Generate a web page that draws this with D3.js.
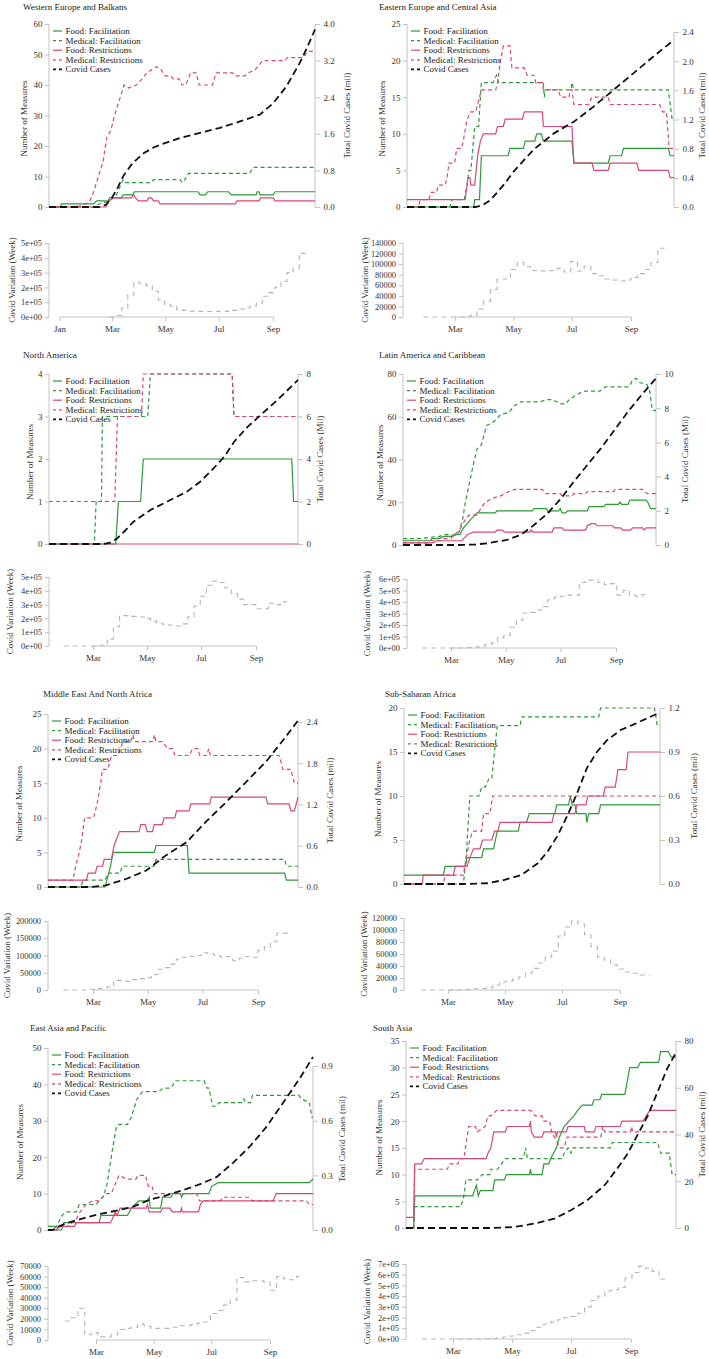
<!DOCTYPE html>
<html><head><meta charset="utf-8">
<script src="https://cdn.jsdelivr.net/npm/d3@7"></script>
<style>body{margin:0;background:#fff}svg{display:block}</style>
</head><body><svg id="chart" width="709" height="1359"></svg>
<script>
// ---------- shared labels ----------
const seriesNames = ["Food: Facilitation","Medical: Facilitation","Food: Restrictions","Medical: Restrictions","Covid Cases"];
const monthNames = ["Jan","Feb","Mar","Apr","May","Jun","Jul","Aug","Sep","Oct","Nov","Dec"];
const mainDays = [0, 280];            // main charts: day index of the period shown
const leftTitle = "Number of Measures";
const subTitle = "Covid Variation (Week)";

// ---------- Western Europe and Balkans ----------
const weFoodFac = [[0,0],[12,0],[13,1],[47,1],[50,2],[62,2],[64,3],[76,3],[78,4],[88,4],[90,5],[157,5],[159,4],[165,4],[167,5],[189,5],[192,4],[218,4],[219,5],[221,5],[222,4],[236,4],[238,5],[280,5]];
const weMedFac = [[0,0],[47,0],[53,1],[64,2],[71,4],[78,9],[81,8],[108,8],[110,9],[138,9],[140,8],[143,9],[147,11],[211,11],[215,13],[280,13]];
const weFoodRes = [[0,0],[60,0],[63,2],[68,3],[87,3],[89,4],[91,3],[94,2],[103,2],[105,3],[108,3],[110,2],[115,2],[117,1],[196,1],[198,2],[221,2],[223,3],[236,3],[238,2],[280,2]];
const weMedRes = [[0,0],[29,0],[38,1],[43,2],[47,5],[52,10],[57,15],[61,23],[65,25],[69,30],[74,35],[79,40],[84,39],[92,40],[98,42],[103,44],[108,45],[113,46],[118,45],[122,43],[128,43],[131,42],[137,42],[140,40],[144,40],[149,44],[155,44],[158,40],[172,40],[176,44],[193,44],[196,43],[206,43],[210,44],[217,45],[225,48],[248,48],[251,49],[268,49],[272,51],[280,51]];
const weCases = [[0,0],[53,0],[60,0.05],[67,0.23],[73,0.45],[78,0.67],[88,0.96],[100,1.18],[110,1.3],[117,1.36],[138,1.51],[159,1.62],[180,1.73],[201,1.87],[222,2.02],[236,2.27],[250,2.64],[264,3.15],[272,3.5],[280,3.88]];
const weWeekStart = 57;
const weWeekly = [0,10000,60000,150000,235000,225000,210000,175000,115000,85000,72000,50000,45000,40000,38000,37000,37000,38000,35000,38000,45000,52000,62000,75000,95000,140000,165000,200000,240000,300000,330000,430000];
const weLeftTicks = ["0","10","20","30","40","50","60"];
const weRightTicks = ["0.0","0.8","1.6","2.4","3.2","4.0"];
const weSubTicks = ["0e+00","1e+05","2e+05","3e+05","4e+05","5e+05"];
const weMonths = ["Jan","Mar","May","Jul","Sep"];

// ---------- Eastern Europe and Central Asia ----------
const eeFoodFac = [[0,0],[70,0],[71,1],[76,1],[78,7],[106,7],[108,8],[122,8],[124,9],[134,9],[136,10],[141,10],[143,9],[173,9],[175,6],[211,6],[213,7],[225,7],[227,8],[274,8],[276,7],[280,7]];
const eeMedFac = [[0,0],[45,0],[47,1],[60,1],[63,3],[65,5],[67,5],[71,11],[75,11],[78,17],[90,17],[94,18],[96,17],[143,17],[144,15],[145,16],[172,16],[173,17],[175,16],[274,16],[278,12],[280,12]];
const eeFoodRes = [[0,1],[61,1],[63,3],[64,4],[66,4],[67,3],[71,3],[74,7],[77,9],[80,10],[93,10],[95,11],[101,11],[103,12],[121,12],[123,13],[142,13],[143,11],[173,11],[175,6],[194,6],[196,5],[211,5],[213,6],[241,6],[243,5],[274,5],[276,4],[280,4]];
const eeMedRes = [[0,0],[12,0],[14,1],[23,1],[25,2],[31,2],[33,3],[40,3],[42,4],[44,6],[50,6],[52,8],[57,8],[59,9],[63,12],[67,13],[72,13],[78,16],[93,16],[95,17],[98,20],[101,22],[108,22],[110,19],[123,19],[126,18],[133,18],[135,17],[142,17],[143,16],[159,16],[161,15],[170,15],[171,16],[173,16],[175,14],[190,14],[194,15],[211,15],[213,14],[265,14],[268,13],[272,13],[275,8],[280,8]];
const eeCases = [[0,0],[72,0],[80,0.03],[87,0.09],[94,0.19],[103,0.33],[112,0.49],[133,0.79],[154,1.01],[175,1.17],[196,1.38],[217,1.61],[238,1.84],[259,2.07],[280,2.29]];
const eeWeekStart = 27;
const eeWeekly = [0,0,0,0,0,0,0,3000,15000,30000,52000,72000,72000,90000,103000,95000,88000,87000,87000,88000,92000,85000,105000,87000,96000,82000,78000,72000,70000,68000,70000,75000,82000,90000,103000,130000];
const eeLeftTicks = ["0","5","10","15","20","25"];
const eeRightTicks = ["0.0","0.4","0.8","1.2","1.6","2.0","2.4"];
const eeSubTicks = ["0","20000","40000","60000","80000","100000","120000","140000"];
const eeMonths = ["Mar","May","Jul","Sep"];

// ---------- North America ----------
const naFoodFac = [[0,0],[75,0],[78,1],[103,1],[106,2],[273,2],[275,1],[280,1]];
const naMedFac = [[0,0],[51,0],[53,1],[59,1],[60,3],[111,3],[114,4],[206,4],[208,3],[280,3]];
const naFoodRes = [[0,0],[280,0]];
const naMedRes = [[0,1],[74,1],[77,3],[104,3],[106,4],[206,4],[208,3],[280,3]];
const naCases = [[0,0],[61,0],[68,0.05],[76,0.24],[85,0.6],[95,1.05],[114,1.6],[133,2.0],[155,2.46],[170,2.93],[185,3.56],[197,4.1],[208,4.8],[223,5.5],[238,6.07],[257,6.78],[280,7.72]];
const naWeekStart = 27;
const naWeekly = [0,0,0,0,0,0,5000,50000,140000,220000,220000,215000,210000,200000,180000,165000,155000,150000,145000,160000,210000,290000,360000,440000,470000,460000,420000,380000,340000,300000,300000,270000,270000,310000,300000,320000];
const naLeftTicks = ["0","1","2","3","4"];
const naRightTicks = ["0","2","4","6","8"];
const naSubTicks = ["0e+00","1e+05","2e+05","3e+05","4e+05","5e+05"];
const naMonths = ["Mar","May","Jul","Sep"];

// ---------- Latin America and Caribbean ----------
const laFoodFac = [[0,2],[30,2],[32,3],[40,3],[45,4],[55,4],[60,5],[63,5],[67,8],[75,12],[82,15],[102,15],[104,16],[143,16],[145,17],[159,17],[161,15],[165,16],[172,16],[174,17],[176,15],[180,15],[182,16],[204,16],[206,18],[222,18],[224,19],[238,19],[240,20],[242,19],[249,19],[251,21],[269,21],[271,20],[274,17],[280,17]];
const laMedFac = [[0,3],[20,3],[28,3.5],[40,4],[48,5],[54,4.5],[58,5],[62,6],[66,12],[69,20],[73,28],[78,38],[82,45],[87,47],[90,52],[93,56],[98,57],[104,59],[108,61],[117,62],[123,65],[130,67],[152,67],[158,68],[165,68],[170,67],[175,66],[180,66],[184,68],[191,70],[200,72],[218,72],[224,74],[250,74],[254,77],[258,78],[262,76],[270,75],[273,72],[276,63],[280,63]];
const laFoodRes = [[0,1],[33,1],[37,2],[65,2],[67,3],[72,5],[78,6],[102,6],[104,7],[110,7],[112,6],[140,6],[142,7],[144,6],[165,6],[167,8],[176,8],[178,7],[202,7],[204,9],[208,10],[213,10],[215,9],[232,9],[234,8],[241,8],[243,7],[252,7],[254,8],[265,8],[267,7],[269,8],[280,8]];
const laMedRes = [[0,1],[27,1],[30,2],[42,2],[45,3],[53,3],[56,5],[61,6],[64,8],[69,12],[73,14],[82,14],[86,17],[91,20],[100,22],[108,23],[117,25],[124,26],[154,26],[158,24],[174,24],[176,23],[187,23],[189,24],[202,24],[204,25],[233,25],[235,26],[265,26],[267,25],[271,24],[280,24]];
const laCases = [[0,0],[60,0],[80,0.03],[93,0.1],[115,0.3],[130,0.58],[145,1.17],[160,1.85],[175,2.73],[189,3.7],[204,4.68],[219,5.65],[234,6.72],[249,7.8],[264,8.77],[280,9.75]];
const laWeekStart = 28;
const laWeekly = [0,0,0,0,0,0,0,3000,8000,15000,30000,45000,90000,110000,180000,240000,305000,310000,330000,360000,420000,440000,450000,460000,460000,570000,590000,590000,570000,550000,560000,460000,500000,460000,450000,465000];
const laLeftTicks = ["0","20","40","60","80"];
const laRightTicks = ["0","2","4","6","8","10"];
const laSubTicks = ["0e+00","1e+05","2e+05","3e+05","4e+05","5e+05","6e+05"];
const laMonths = ["Mar","May","Jul","Sep"];

// ---------- Middle East And North Africa ----------
const meFoodFac = [[0,0],[64,0],[66,1],[70,3],[73,5],[119,5],[121,6],[156,6],[158,2],[265,2],[267,1],[280,1]];
const meMedFac = [[0,0],[37,0],[39,1],[64,1],[67,2],[81,2],[83,3],[119,3],[121,4],[265,4],[267,3],[280,3]];
const meFoodRes = [[0,1],[43,1],[45,2],[53,2],[55,3],[61,3],[63,4],[71,4],[74,6],[77,7],[80,8],[102,8],[104,9],[109,9],[111,8],[117,8],[119,9],[128,9],[130,10],[142,10],[144,11],[158,11],[160,12],[181,12],[183,13],[244,13],[246,12],[270,12],[272,11],[276,11],[280,13]];
const meMedRes = [[0,1],[28,1],[31,3],[35,5],[38,7],[41,10],[51,10],[55,12],[59,15],[61,17],[67,17],[71,19],[78,19],[84,21],[93,21],[95,22],[97,21],[118,21],[119,22],[121,21],[128,21],[134,20],[140,20],[142,19],[158,19],[162,20],[168,20],[170,19],[178,19],[180,20],[182,19],[259,19],[263,17],[272,17],[276,15],[280,15]];
const meCases = [[0,0],[47,0],[65,0.024],[88,0.12],[110,0.24],[132,0.46],[155,0.65],[177,0.95],[200,1.24],[222,1.53],[244,1.82],[263,2.13],[280,2.42]];
const meWeekStart = 27;
const meWeekly = [0,0,0,0,2000,4000,6000,9000,28000,28000,25000,30000,33000,36000,45000,60000,65000,75000,90000,95000,97000,100000,108000,105000,100000,95000,97000,85000,92000,97000,95000,115000,125000,140000,165000,165000];
const meLeftTicks = ["0","5","10","15","20","25"];
const meRightTicks = ["0.0","0.6","1.2","1.8","2.4"];
const meSubTicks = ["0","50000","100000","150000","200000"];
const meMonths = ["Mar","May","Jul","Sep"];

// ---------- Sub-Saharan Africa ----------
const ssFoodFac = [[0,1],[43,1],[45,2],[67,2],[69,3],[85,3],[87,4],[98,4],[100,5],[102,6],[125,6],[127,7],[134,7],[137,8],[165,8],[167,9],[180,9],[182,10],[184,9],[187,9],[189,8],[199,8],[200,7],[202,8],[213,8],[215,9],[280,9]];
const ssMedFac = [[0,0],[65,0],[68,3],[72,10],[82,10],[85,11],[89,11],[93,12],[96,12],[99,15],[102,18],[127,18],[129,19],[213,19],[215,20],[274,20],[277,18],[280,18]];
const ssFoodRes = [[0,0],[20,0],[21,1],[54,1],[56,2],[69,2],[72,3],[76,4],[83,4],[86,5],[96,5],[99,6],[103,6],[105,7],[162,7],[164,8],[187,8],[189,9],[199,9],[201,10],[218,10],[220,11],[231,11],[234,13],[243,13],[245,15],[280,15]];
const ssMedRes = [[0,0],[43,0],[45,1],[65,1],[68,3],[72,5],[75,6],[85,6],[87,8],[94,8],[97,10],[280,10]];
const ssCases = [[0,0],[65,0],[91,0.005],[109,0.027],[128,0.06],[146,0.14],[157,0.22],[168,0.33],[179,0.47],[190,0.63],[200,0.79],[211,0.9],[222,0.98],[237,1.05],[252,1.09],[266,1.13],[280,1.17]];
const ssWeekStart = 31;
const ssWeekly = [0,0,0,0,0,0,0,1000,2000,2500,4000,8000,13000,15000,18000,22000,28000,36000,45000,55000,65000,90000,105000,115000,110000,92000,72000,55000,50000,42000,35000,30000,28000,25000,25000];
const ssLeftTicks = ["0","5","10","15","20"];
const ssRightTicks = ["0.0","0.3","0.6","0.9","1.2"];
const ssSubTicks = ["0","20000","40000","60000","80000","100000","120000"];
const ssMonths = ["Mar","May","Jul","Sep"];

// ---------- East Asia and Pacific ----------
const eaFoodFac = [[0,1],[9,1],[11,0],[14,0],[17,2],[54,2],[56,4],[84,4],[88,6],[96,8],[105,8],[107,9],[108,6],[119,6],[121,9],[130,9],[132,10],[140,10],[141,9],[143,10],[170,10],[173,12],[180,13],[276,13],[280,14]];
const eaMedFac = [[0,0],[5,0],[9,1],[15,4],[19,5],[30,5],[33,7],[51,7],[54,8],[58,9],[62,12],[65,17],[68,22],[72,28],[75,29],[84,29],[88,31],[94,36],[100,38],[117,38],[122,39],[130,39],[135,41],[165,41],[168,39],[170,39],[174,34],[178,34],[181,35],[205,35],[207,36],[209,35],[214,35],[216,37],[265,37],[268,36],[276,35],[279,31],[280,31]];
const eaFoodRes = [[0,0],[9,0],[11,1],[28,1],[30,2],[66,2],[68,3],[71,5],[73,4],[76,6],[104,6],[105,7],[107,5],[119,5],[121,6],[129,6],[131,5],[140,5],[141,6],[142,5],[159,5],[161,7],[164,8],[238,8],[241,10],[280,10]];
const eaMedRes = [[0,0],[10,0],[11,1],[24,1],[25,2],[30,3],[34,5],[40,7],[47,8],[54,8],[61,10],[67,10],[70,12],[75,15],[83,14],[93,14],[95,15],[103,15],[106,12],[110,12],[112,10],[157,10],[160,8],[182,8],[185,9],[212,9],[216,8],[273,8],[276,7],[280,7]];
const eaCases = [[0,0],[5,0],[12,0.02],[19,0.037],[37,0.064],[55,0.088],[72,0.106],[90,0.128],[107,0.165],[125,0.19],[143,0.22],[160,0.25],[178,0.29],[195,0.366],[213,0.457],[231,0.567],[248,0.695],[266,0.832],[280,0.95]];
const eaWeekStart = 27;
const eaWeekly = [18000,21000,30000,5000,7000,3000,3000,5000,10000,11000,12000,15000,13000,11000,11000,11000,12000,13500,13500,14500,16000,17000,25000,28000,33000,38000,59000,55000,56000,56000,55000,47000,60000,58000,57000,60000];
const eaLeftTicks = ["0","10","20","30","40","50"];
const eaRightTicks = ["0.0","0.3","0.6","0.9"];
const eaSubTicks = ["0","10000","20000","30000","40000","50000","60000","70000"];
const eaMonths = ["Mar","May","Jul","Sep"];

// ---------- South Asia ----------
const saFoodFac = [[0,0],[8,0],[9,6],[69,6],[71,7],[73,8],[75,6],[77,7],[90,7],[92,9],[102,9],[104,10],[128,10],[129,11],[130,10],[141,10],[143,12],[148,12],[150,13],[153,14],[156,15],[159,17],[164,19],[169,20],[174,21],[178,22],[183,23],[193,23],[195,24],[201,24],[203,25],[227,25],[229,27],[232,30],[240,30],[243,31],[262,31],[264,33],[272,33],[275,32],[280,32]];
const saMedFac = [[0,0],[8,0],[9,4],[57,4],[60,6],[62,9],[74,9],[79,10],[87,10],[88,11],[95,11],[99,12],[103,13],[121,13],[123,14],[124,15],[126,13],[162,13],[164,14],[168,15],[171,14],[173,15],[212,15],[214,16],[261,16],[264,14],[273,14],[276,10],[280,10]];
const saFoodRes = [[0,2],[8,2],[9,12],[16,12],[19,13],[83,13],[85,14],[88,15],[91,18],[103,18],[105,19],[128,19],[129,20],[130,18],[133,17],[141,17],[143,18],[155,18],[156,17],[157,18],[166,18],[168,19],[185,19],[186,18],[195,18],[197,19],[222,19],[224,20],[246,20],[249,21],[253,22],[280,22]];
const saMedRes = [[0,0],[8,0],[9,11],[43,11],[45,12],[54,12],[56,13],[60,13],[65,19],[72,19],[74,18],[82,19],[85,21],[88,21],[94,22],[129,22],[134,21],[141,21],[143,20],[149,20],[151,18],[154,17],[160,15],[164,15],[167,17],[202,17],[204,19],[206,18],[233,18],[234,19],[235,18],[280,18]];
const saCases = [[0,0],[90,0],[112,0.4],[133,1.9],[154,4],[171,7.6],[188,11.9],[206,18.3],[219,25.4],[230,31.9],[240,39.7],[251,48.3],[261,58.3],[271,68.3],[280,75]];
const saWeekStart = 28;
const saWeekly = [0,0,0,0,0,0,0,0,0,2000,5000,10000,18000,28000,40000,55000,80000,110000,140000,160000,180000,200000,210000,240000,300000,360000,400000,450000,460000,480000,570000,620000,680000,660000,630000,560000];
const saLeftTicks = ["0","5","10","15","20","25","30","35"];
const saRightTicks = ["0","20","40","60","80"];
const saSubTicks = ["0e+00","1e+05","2e+05","3e+05","4e+05","5e+05","6e+05","7e+05"];
const saMonths = ["Mar","May","Jul","Sep"];

// ---------- assemble panels (data + layout kept apart) ----------
const panels = [
  {name:"Western Europe and Balkans", s:[weFoodFac,weMedFac,weFoodRes,weMedRes], cases:weCases, weekly:weWeekly, weekStart:weWeekStart, lt:weLeftTicks, rt:weRightTicks, st:weSubTicks, months:weMonths, rTitle:"Total Covid Cases (mil)",
   lay:{L:49,R:315,yTop:24,y0:207,rTop:24,tx:23,ty:10,ltx:24,rtx:347,sL:49,sTop:243,s0:317,mar:112,sep:273,stx:12}},
  {name:"Eastern Europe and Central Asia", s:[eeFoodFac,eeMedFac,eeFoodRes,eeMedRes], cases:eeCases, weekly:eeWeekly, weekStart:eeWeekStart, lt:eeLeftTicks, rt:eeRightTicks, st:eeSubTicks, months:eeMonths, rTitle:"Total Covid Cases (mil)",
   lay:{L:407,R:674,yTop:24,y0:207,rTop:32,tx:379,ty:10,ltx:382,rtx:702,sL:403,sTop:243,s0:317,mar:455,sep:631,stx:365}},
  {name:"North America", s:[naFoodFac,naMedFac,naFoodRes,naMedRes], cases:naCases, weekly:naWeekly, weekStart:naWeekStart, lt:naLeftTicks, rt:naRightTicks, st:naSubTicks, months:naMonths, rTitle:"Total Covid Cases (Mil)",
   lay:{L:49,R:298,yTop:374,y0:544,rTop:374,tx:23,ty:358,ltx:30,rtx:320,sL:49,sTop:577,s0:646,mar:93,sep:256,stx:10}},
  {name:"Latin America and Caribbean", s:[laFoodFac,laMedFac,laFoodRes,laMedRes], cases:laCases, weekly:laWeekly, weekStart:laWeekStart, lt:laLeftTicks, rt:laRightTicks, st:laSubTicks, months:laMonths, rTitle:"Total Covid Cases (Mil)",
   lay:{L:403,R:656,yTop:374,y0:545,rTop:374,tx:379,ty:358,ltx:380,rtx:685,sL:407,sTop:579,s0:648,mar:451,sep:616,stx:367}},
  {name:"Middle East And North Africa", s:[meFoodFac,meMedFac,meFoodRes,meMedRes], cases:meCases, weekly:meWeekly, weekStart:meWeekStart, lt:meLeftTicks, rt:meRightTicks, st:meSubTicks, months:meMonths, rTitle:"Total Covid Cases (mil)",
   lay:{L:48,R:298,yTop:714,y0:887,rTop:722,tx:43,ty:697,ltx:19,rtx:330,sL:48,sTop:921,s0:990,mar:93,sep:258,stx:7}},
  {name:"Sub-Saharan Africa", s:[ssFoodFac,ssMedFac,ssFoodRes,ssMedRes], cases:ssCases, weekly:ssWeekly, weekStart:ssWeekStart, lt:ssLeftTicks, rt:ssRightTicks, st:ssSubTicks, months:ssMonths, rTitle:"Total Covid Cases (mil)",
   lay:{L:404,R:660,yTop:708,y0:884,rTop:708,tx:385,ty:697,ltx:378,rtx:694,sL:404,sTop:918,s0:990,mar:448,sep:620,stx:364}},
  {name:"East Asia and Pacific", s:[eaFoodFac,eaMedFac,eaFoodRes,eaMedRes], cases:eaCases, weekly:eaWeekly, weekStart:eaWeekStart, lt:eaLeftTicks, rt:eaRightTicks, st:eaSubTicks, months:eaMonths, rTitle:"Total Covid Cases (mil)",
   lay:{L:48,R:313,yTop:1048,y0:1230,rTop:1066,tx:30,ty:1031,ltx:20,rtx:342,sL:48,sTop:1266,s0:1340,mar:96,sep:270,stx:10}},
  {name:"South Asia", s:[saFoodFac,saMedFac,saFoodRes,saMedRes], cases:saCases, weekly:saWeekly, weekStart:saWeekStart, lt:saLeftTicks, rt:saRightTicks, st:saSubTicks, months:saMonths, rTitle:"Total Covid Cases (mil)",
   lay:{L:406,R:676,yTop:1041,y0:1228,rTop:1041,tx:373,ty:1031,ltx:379,rtx:702,sL:406,sTop:1264,s0:1339,mar:453,sep:631,stx:367}}
];

// ---------- styles ----------
const FONT = '"Liberation Serif","Times New Roman",serif';
const GREEN = "#2e9a36", PINK = "#d9467a", BLACK = "#111", GREY = "#b5b5b5", AXIS = "#c2c2c2", TXT = "#333";
const lineStyles = [
  {color:GREEN, dash:null, w:1.2, ldash:null},
  {color:GREEN, dash:"4,3", w:1.2, ldash:"3,3"},
  {color:PINK, dash:null, w:1.2, ldash:null},
  {color:PINK, dash:"4,3", w:1.2, ldash:"3,3"},
  {color:BLACK, dash:"7,4", w:1.8, ldash:"3,3"}
];
const FS = 9, FS_SUB = 8.4;

const svg = d3.select("#chart").style("font-family", FONT);
const day0 = new Date(2020,0,1);
const monthDay = name => d3.timeDay.count(day0, new Date(2020, monthNames.indexOf(name), 1));

function styleAxis(sel, fs){
  sel.select(".domain").remove();
  sel.selectAll(".tick line").attr("stroke", AXIS);
  sel.selectAll(".tick text").attr("fill", TXT).attr("font-family", FONT).attr("font-size", fs || FS);
  sel.attr("font-family", FONT);
}

panels.forEach(p => {
  const a = p.lay;
  const g = svg.append("g");
  const lv = p.lt.map(Number), rv = p.rt.map(Number), sv = p.st.map(Number);
  const x = d3.scaleLinear().domain(mainDays).range([a.L, a.R]);
  const yL = d3.scaleLinear().domain([0, d3.max(lv)]).range([a.y0, a.yTop]);
  const yR = d3.scaleLinear().domain([0, d3.max(rv)]).range([a.y0, a.rTop]);

  // title
  g.append("text").attr("x", a.tx).attr("y", a.ty).attr("font-size", FS).attr("fill", "#222").text(p.name);

  // left axis
  const axL = g.append("g").attr("transform", `translate(${a.L},0)`)
    .call(d3.axisLeft(yL).tickValues(lv).tickFormat(d => p.lt[lv.indexOf(d)]).tickSize(4).tickPadding(2.5));
  styleAxis(axL);
  g.append("line").attr("x1", a.L).attr("x2", a.L).attr("y1", yL(lv[0])).attr("y2", yL(lv[lv.length-1])).attr("stroke", AXIS);

  // right axis
  const axR = g.append("g").attr("transform", `translate(${a.R},0)`)
    .call(d3.axisRight(yR).tickValues(rv).tickFormat(d => p.rt[rv.indexOf(d)]).tickSize(5).tickPadding(3.5));
  styleAxis(axR);
  g.append("line").attr("x1", a.R).attr("x2", a.R).attr("y1", yR(rv[0])).attr("y2", yR(rv[rv.length-1])).attr("stroke", AXIS);

  // axis titles
  const midL = (a.yTop + a.y0) / 2;
  g.append("text").attr("transform", `translate(${a.ltx},${midL + 3}) rotate(-90)`).attr("text-anchor", "middle")
    .attr("dy", "0.35em").attr("font-size", FS).attr("fill", TXT).text(leftTitle);
  g.append("text").attr("transform", `translate(${a.rtx},${midL}) rotate(-90)`).attr("text-anchor", "middle")
    .attr("dy", "0.35em").attr("font-size", FS).attr("fill", TXT).text(p.rTitle);

  // series lines
  const lineL = d3.line().x(d => x(d[0])).y(d => yL(d[1]));
  p.s.forEach((data, i) => {
    const st = lineStyles[i];
    g.append("path").datum(data).attr("d", lineL).attr("fill", "none")
      .attr("stroke", st.color).attr("stroke-width", st.w).attr("stroke-dasharray", st.dash);
  });
  const lineR = d3.line().x(d => x(d[0])).y(d => yR(d[1]));
  g.append("path").datum(p.cases).attr("d", lineR).attr("fill", "none")
    .attr("stroke", lineStyles[4].color).attr("stroke-width", lineStyles[4].w).attr("stroke-dasharray", lineStyles[4].dash);

  // legend
  seriesNames.forEach((nm, i) => {
    const st = lineStyles[i];
    const yy = a.yTop + 7 + i * 9.6;
    g.append("line").attr("x1", a.L + 4).attr("x2", a.L + 13).attr("y1", yy).attr("y2", yy)
      .attr("stroke", st.color).attr("stroke-width", i === 4 ? 1.6 : 1.2).attr("stroke-dasharray", st.ldash);
    g.append("text").attr("x", a.L + 16.5).attr("y", yy).attr("dy", "0.33em").attr("font-size", FS).attr("fill", "#222").text(nm);
  });

  // ---------- weekly variation sub-chart ----------
  const xs = d3.scaleLinear().domain([monthDay("Mar"), monthDay("Sep")]).range([a.mar, a.sep]);
  const ys = d3.scaleLinear().domain([0, d3.max(sv)]).range([a.s0, a.sTop]);
  const pts = p.weekly.map((v, i) => [p.weekStart + 7 * i, v]);
  pts.push([p.weekStart + 7 * p.weekly.length, p.weekly[p.weekly.length - 1]]);
  g.append("path").datum(pts)
    .attr("d", d3.line().x(d => xs(d[0])).y(d => ys(d[1])).curve(d3.curveStepAfter))
    .attr("fill", "none").attr("stroke", GREY).attr("stroke-width", 1.1).attr("stroke-dasharray", "5,4");

  const axS = g.append("g").attr("transform", `translate(${a.sL},0)`)
    .call(d3.axisLeft(ys).tickValues(sv).tickFormat(d => p.st[sv.indexOf(d)]).tickSize(4).tickPadding(3));
  styleAxis(axS, FS_SUB);
  g.append("line").attr("x1", a.sL).attr("x2", a.sL).attr("y1", ys(sv[0])).attr("y2", ys(sv[sv.length-1])).attr("stroke", AXIS);

  const mdays = p.months.map(monthDay);
  const axX = g.append("g").attr("transform", `translate(0,${a.s0})`)
    .call(d3.axisBottom(xs).tickValues(mdays).tickFormat(d => p.months[mdays.indexOf(d)]).tickSize(4).tickPadding(5));
  styleAxis(axX);
  g.append("line").attr("x1", xs(mdays[0])).attr("x2", xs(mdays[mdays.length-1])).attr("y1", a.s0).attr("y2", a.s0).attr("stroke", AXIS);

  g.append("text").attr("transform", `translate(${a.stx},${(a.sTop + a.s0) / 2}) rotate(-90)`).attr("text-anchor", "middle")
    .attr("dy", "0.35em").attr("font-size", FS).attr("fill", TXT).text(subTitle);
});
</script>
</body></html>
